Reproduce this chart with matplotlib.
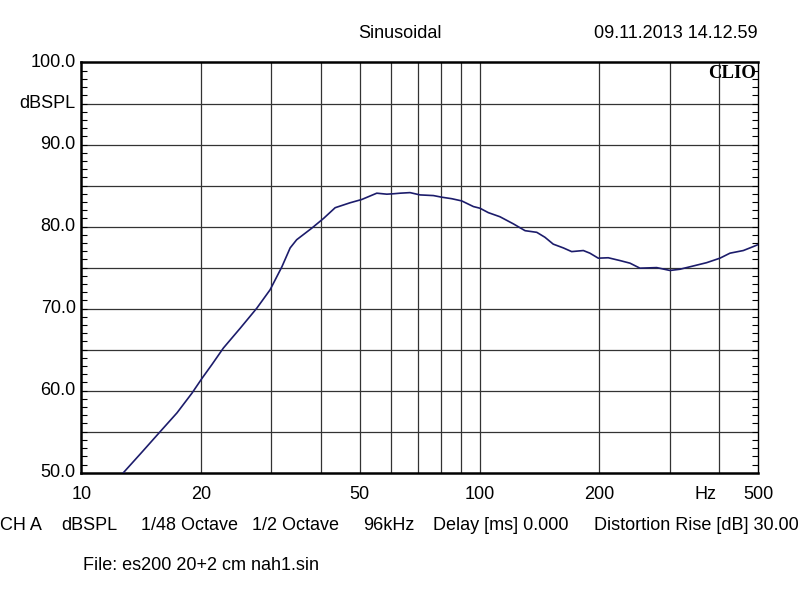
import matplotlib
matplotlib.use("Agg")
import matplotlib.pyplot as plt
from matplotlib.ticker import FixedLocator, NullFormatter

plt.rcParams["font.family"] = ["Liberation Sans", "DejaVu Sans"]

# frequency response (Hz, dBSPL)
freq = [12.76, 14.2, 15.78, 17.4, 18.97, 20.1, 21.3, 22.75, 25.06, 27.6, 29.8,
        31.9, 33.46, 34.75, 37.9, 40.6, 43.4, 47.3, 50.6, 55.2, 58.5, 60.8,
        63.2, 66.9, 70.9, 76.6, 80.4, 85.1, 90.2, 96.5, 100.2, 105.2, 112.5,
        121.6, 130.1, 139.2, 145.9, 153.1, 162.3, 170.3, 182.2, 189.2, 198.6,
        210.4, 225.1, 238.6, 252.7, 278.4, 300.6, 318.4, 344.0, 371.5, 401.3,
        425.3, 459.3, 486.5, 500.0]
spl = [50.0, 52.5, 55.0, 57.3, 59.7, 61.5, 63.2, 65.2, 67.6, 70.06, 72.3,
       75.1, 77.4, 78.4, 79.8, 81.0, 82.3, 82.9, 83.3, 84.07, 83.95, 84.0,
       84.07, 84.14, 83.86, 83.78, 83.58, 83.4, 83.13, 82.44, 82.24, 81.7, 81.2,
       80.33, 79.5, 79.3, 78.7, 77.86, 77.4, 76.95, 77.08, 76.76, 76.15,
       76.2, 75.86, 75.54, 74.93, 75.0, 74.65, 74.8, 75.2, 75.6, 76.15,
       76.76, 77.08, 77.56, 77.8]

x_grid = [20, 30, 40, 50, 60, 70, 80, 90, 100, 200, 300, 400]
x_labels = {10: "10", 20: "20", 50: "50", 100: "100", 200: "200", 500: "500"}
y_grid = [55, 60, 65, 70, 75, 80, 85, 90, 95]
y_labels = {100: "100.0", 95: "dBSPL", 90: "90.0", 80: "80.0", 70: "70.0", 60: "60.0", 50: "50.0"}

info_items = ["CH A", "dBSPL", "1/48 Octave", "1/2 Octave", "96kHz",
              "Delay [ms] 0.000", "Distortion Rise [dB] 30.00"]
info_x = [0, 61, 141, 252, 363, 433, 594]

FS = 13

fig = plt.figure(figsize=(8, 5.98), dpi=100)
ax = fig.add_axes([0.1015, 0.2095, 0.846, 0.686])

ax.set_xscale("log")
ax.set_xlim(10, 500)
ax.set_ylim(50, 100)

for f in x_grid:
    ax.axvline(f, color="#333333", lw=0.9, zorder=1)
for v in y_grid:
    ax.axhline(v, color="#333333", lw=0.9, zorder=1)

ax.plot(freq, spl, color="#1c1c6b", lw=1.2, zorder=3)

for side in ["left", "bottom", "top"]:
    ax.spines[side].set_linewidth(1.8)
ax.spines["right"].set_linewidth(1.0)

ax.xaxis.set_major_locator(FixedLocator([]))
ax.xaxis.set_minor_locator(FixedLocator([]))
ax.xaxis.set_minor_formatter(NullFormatter())
ax.yaxis.set_major_locator(FixedLocator([]))
ax.yaxis.set_minor_locator(FixedLocator(list(range(50, 101))))
ax.tick_params(axis="y", which="minor", direction="in", length=4, width=0.8,
               left=True, right=True, labelleft=False)

for v, txt in y_labels.items():
    ax.text(-0.008, (v - 50) / 50, txt, transform=ax.transAxes, ha="right",
            va="center", fontsize=FS)
for f, txt in x_labels.items():
    ax.text(f, 47.4, txt, ha="center", va="center", fontsize=FS)
ax.text(370, 47.4, "Hz", ha="center", va="center", fontsize=FS)

ax.text(0.997, 0.993, "CLIO", transform=ax.transAxes, ha="right", va="top",
        fontsize=13.5, fontweight="bold", family="Liberation Serif")

fig.text(400 / 800, 1 - 33 / 598, "Sinusoidal", ha="center", va="center", fontsize=FS)
fig.text(758 / 800, 1 - 33 / 598, "09.11.2013 14.12.59", ha="right", va="center", fontsize=FS)
for txt, px in zip(info_items, info_x):
    fig.text(px / 800, 1 - 526 / 598, txt, ha="left", va="center", fontsize=FS)
fig.text(83 / 800, 1 - 566 / 598, "File: es200 20+2 cm nah1.sin", ha="left", va="center", fontsize=FS)

fig.savefig("out.png", dpi=100, facecolor="white")
